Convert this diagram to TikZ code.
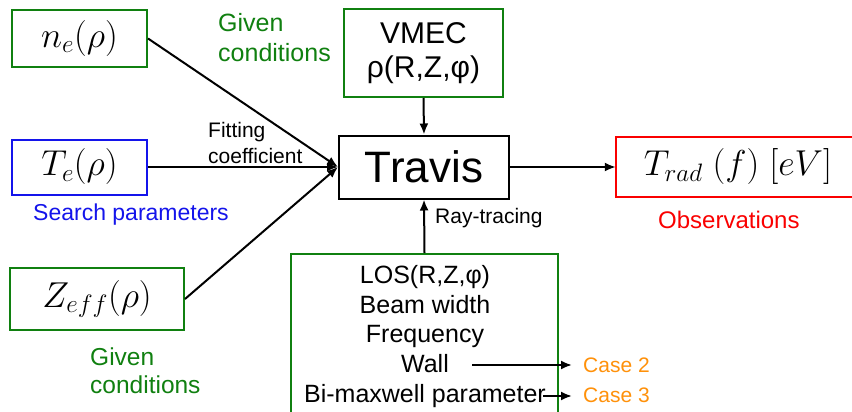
\RequirePackage{fix-cm}
\documentclass[tikz,border=0pt]{standalone}
\usepackage{fontspec}
\setmainfont{Liberation Sans}
\usetikzlibrary{arrows.meta}

\definecolor{cgreen}{RGB}{16,128,16}
\definecolor{cblue}{RGB}{20,20,235}
\definecolor{cred}{RGB}{250,0,0}
\definecolor{corange}{RGB}{255,145,10}

\newcommand{\fs}[1]{\fontsize{#1}{#1}\selectfont}

\tikzset{
  box/.style={draw, line width=2pt, inner sep=0pt, align=center},
  conn/.style={line width=2pt, -{Latex[length=11pt,width=9pt]}},
  lbl/.style={inner sep=0pt, anchor=base west},
  mathbox/.style={box, font=\fs{36}},
}

\begin{document}
\begin{tikzpicture}[x=1pt,y=-1pt]
  \useasboundingbox (0,0) rectangle (852,412);
  \clip (0,0) rectangle (852,412);
  \fill[white] (0,0) rectangle (852,412);

  % input profiles
  \node[mathbox, draw=cgreen, minimum width=135pt, minimum height=57pt] (ne) at (79.5,38.5) {$n_e(\rho)$};
  \node[mathbox, draw=cblue, minimum width=135pt, minimum height=55pt] (te) at (79.5,167) {$T_e(\rho)$};
  \node[mathbox, draw=cgreen, minimum width=174pt, minimum height=62pt] (zf) at (97,299) {$Z_{eff}(\rho)$};

  % equilibrium and code
  \node[box, draw=cgreen, minimum width=159pt, minimum height=88pt, font=\fs{30}] (vm) at (423.5,53) {VMEC\\[4pt]ρ(R,Z,φ)};
  \node[box, draw=black, minimum width=170pt, minimum height=63pt, font=\fs{44}] (tv) at (424,167) {Travis};

  % output box, open on the right where it runs off the page
  \node[inner sep=0pt, minimum width=260pt, minimum height=59pt] (tr) at (746,167) {};
  \draw[cred, line width=2pt] (tr.north east) -- (tr.north west) -- (tr.south west) -- (tr.south east);
  \node[inner sep=0pt, font=\fs{36}] (trt) at (738,167) {$T_{rad}\ (f)\ [eV]$};

  % diagnostic geometry
  \node[box, draw=cgreen, minimum width=267pt, minimum height=166pt] (los) at (424.5,337) {};
  \begin{scope}[every node/.style={inner sep=0pt, anchor=base, font=\fs{25}}]
    \node (l1) at (425,283) {LOS(R,Z,φ)};
    \node (l2) at (425,313) {Beam width};
    \node (l3) at (425,342) {Frequency};
    \node (wall) at (425,372) {Wall};
    \node (bm) at (425,402) {Bi-maxwell parameter};
  \end{scope}

  % labels
  \node[lbl, text=cgreen, font=\fs{25}] (g1a) at (218,32) {Given};
  \node[lbl, text=cgreen, font=\fs{25}] (g1b) at (218,62) {conditions};
  \node[lbl, font=\fs{21}] (fa) at (208,137) {Fitting};
  \node[lbl, font=\fs{21}] (fb) at (208,163) {coefficient};
  \node[lbl, text=cblue, font=\fs{23}] (sp) at (33,220) {Search parameters};
  \node[lbl, font=\fs{21}] (rt) at (435,223) {Ray-tracing};
  \node[lbl, text=cred, font=\fs{24}] (ob) at (658,228) {Observations};
  \node[lbl, text=cgreen, font=\fs{24.5}] (g2a) at (90,365) {Given};
  \node[lbl, text=cgreen, font=\fs{24.5}] (g2b) at (90,393) {conditions};
  \node[anchor=base west, inner sep=0pt, inner xsep=11pt, text=corange, font=\fs{21}] (c2) at (572,372) {Case 2};
  \node[anchor=base west, inner sep=0pt, inner xsep=11pt, text=corange, font=\fs{21}] (c3) at (572,402) {Case 3};

  % connectors
  \draw[conn] (ne.east) -- (tv.west);
  \draw[conn] (te.east) -- (tv.west);
  \draw[conn] (zf.east) -- (tv.west);
  \draw[conn] (vm.south) -- (tv.north);
  \draw[conn] (los.north) -- (tv.south);
  \draw[conn] (tv.east) -- (tr.west);
  \coordinate (w0) at (472,365);
  \coordinate (b0) at (543,396);
  \draw[conn] (w0) -- (w0 -| c2.west);
  \draw[conn] (b0) -- (b0 -| c3.west);
\end{tikzpicture}
\end{document}
